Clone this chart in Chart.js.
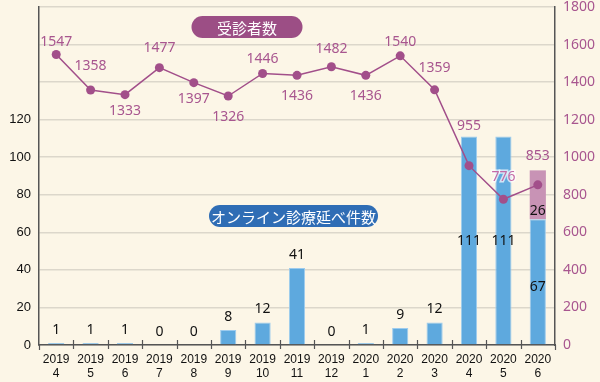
<!DOCTYPE html>
<html><head><meta charset="utf-8">
<script src="https://cdn.jsdelivr.net/npm/chart.js@4/dist/chart.umd.min.js"></script>
<style>html,body{margin:0;padding:0;background:#fcf6e7;}#wrap{width:600px;height:382px;}</style>
</head><body><div id="wrap"><canvas id="c" width="600" height="382"></canvas></div>
<script>
const categories = [["2019","4"],["2019","5"],["2019","6"],["2019","7"],["2019","8"],["2019","9"],["2019","10"],["2019","11"],["2019","12"],["2020","1"],["2020","2"],["2020","3"],["2020","4"],["2020","5"],["2020","6"]];
const onlineVisits = [1,1,1,0,0,8,12,41,0,1,9,12,111,111,67];
const onlineExtra  = [0,0,0,0,0,0,0,0,0,0,0,0,0,0,26];
const patients = [1547,1358,1333,1477,1397,1326,1446,1436,1482,1436,1540,1359,955,776,853];
const leftTicksShownMax = 120;
const seriesNames = ["受診者数","オンライン診療延べ件数"];

// style: vertical offsets for line value labels
const lineLabelDy = [-12,-24,16,-20,16,21,-14,21,-18,21,-14,-22,-40,-22,-29];

const PURPLE = '#a24f8a';
const PURPLE_TXT = '#a8568f';
const BLUE = '#5ea9de';
const PINK = '#c893b5';

const labelPlugin = {
  id:'labels',
  afterDraw(chart){
    const ctx = chart.ctx;
    const x = chart.scales.x, yL = chart.scales.yL;
    const area = chart.chartArea;
    ctx.save();
    ctx.strokeStyle = '#555'; ctx.lineWidth = 1.2;
    for(let i=1;i<categories.length;i++){
      const px = Math.round((x.getPixelForValue(i-1)+x.getPixelForValue(i))/2)+0.5;
      ctx.beginPath(); ctx.moveTo(px, area.bottom-5); ctx.lineTo(px, area.bottom+4); ctx.stroke();
    }
    ctx.beginPath(); ctx.moveTo(area.right+0.5, area.bottom); ctx.lineTo(area.right+0.5, area.bottom+5); ctx.stroke();
    ctx.beginPath(); ctx.moveTo(area.left+0.5, area.bottom); ctx.lineTo(area.left+0.5, area.bottom+5); ctx.stroke();
    ctx.font = '14px "Noto Sans", sans-serif';
    ctx.textAlign = 'center'; ctx.textBaseline = 'middle';
    ctx.fillStyle = '#111';
    for(let i=0;i<onlineVisits.length;i++){
      const cx = x.getPixelForValue(i);
      const v = onlineVisits[i], e = onlineExtra[i];
      const total = v+e;
      if(total < 60){
        ctx.fillText(String(v), cx, yL.getPixelForValue(total)-13);
      } else {
        const top = yL.getPixelForValue(v), bot = yL.getPixelForValue(0);
        ctx.fillText(String(v), cx, (top+bot)/2 + (e>0?5:0));
        if(e>0){
          ctx.fillText(String(e), cx, yL.getPixelForValue(v)-8);
        }
      }
    }
    const meta = chart.getDatasetMeta(2);
    meta.data.forEach((pt,i)=>{
      const ty = pt.y + lineLabelDy[i];
      if(i===13){
        ctx.lineWidth = 3; ctx.strokeStyle = 'rgba(255,255,255,0.7)';
        ctx.strokeText(String(patients[i]), pt.x, ty);
        ctx.fillStyle = '#c46aa6';
      } else ctx.fillStyle = PURPLE_TXT;
      ctx.fillText(String(patients[i]), pt.x, ty);
    });
    function pill(cx, cy, w, h, color, text){
      const r = h/2;
      ctx.fillStyle = color;
      ctx.beginPath();
      ctx.moveTo(cx-w/2+r, cy-r);
      ctx.lineTo(cx+w/2-r, cy-r);
      ctx.arc(cx+w/2-r, cy, r, -Math.PI/2, Math.PI/2);
      ctx.lineTo(cx-w/2+r, cy+r);
      ctx.arc(cx-w/2+r, cy, r, Math.PI/2, Math.PI*1.5);
      ctx.closePath(); ctx.fill();
      ctx.fillStyle = '#fff';
      ctx.font = '15px "Noto Sans CJK JP", sans-serif';
      ctx.fillText(text, cx, cy+1);
    }
    pill(247, 27, 111, 22, '#9c4e85', seriesNames[0]);
    pill(293.5, 216, 169, 22, '#2f6db5', seriesNames[1]);
    ctx.restore();
  }
};

new Chart(document.getElementById('c'), {
  type:'bar',
  data:{
    labels: categories,
    datasets:[
      {label:seriesNames[1], data:onlineVisits, yAxisID:'yL', backgroundColor:BLUE, borderColor:'#9ccbee', borderWidth:{left:1,right:1,top:1,bottom:0}, barPercentage:0.47, categoryPercentage:1, stack:'s', order:2},
      {label:'extra', data:onlineExtra, yAxisID:'yL', backgroundColor:PINK, borderColor:'#dcb6cf', borderWidth:0, barPercentage:0.47, categoryPercentage:1, stack:'s', order:2},
      {type:'line', label:seriesNames[0], data:patients, yAxisID:'yR', borderColor:PURPLE, backgroundColor:PURPLE, borderWidth:1.5, pointRadius:4.5, pointBackgroundColor:PURPLE, pointBorderWidth:0, tension:0, order:1}
    ]
  },
  options:{
    responsive:false, animation:false,
    layout:{padding:{top:7,left:0,right:0,bottom:0}},
    plugins:{legend:{display:false}, tooltip:{enabled:false}},
    scales:{
      x:{
        stacked:true,
        grid:{display:false, drawTicks:false},
        border:{display:true, color:'#555', width:1.5},
        ticks:{color:'#111', padding:8, font:{family:'"Liberation Sans", Arial, sans-serif', size:12, lineHeight:1.15}, maxRotation:0, autoSkip:false},
        afterFit(s){ s.height = 37; s.paddingLeft = 0; s.paddingRight = 0; }
      },
      yL:{
        position:'left', stacked:true, min:0, max:180,
        grid:{color:'#dcd7cb', lineWidth:1.5, drawTicks:false},
        border:{display:true, color:'#555', width:1.5},
        ticks:{stepSize:20, padding:8, color:'#111', font:{family:'"Liberation Sans", Arial, sans-serif', size:13}, callback:(v)=> v<=leftTicksShownMax ? String(v) : ''},
        afterFit(s){ s.width = 39; s.paddingTop = 0; s.paddingBottom = 0; }
      },
      yR:{
        position:'right', min:0, max:1800,
        grid:{display:false, drawTicks:false},
        border:{display:true, color:'#555', width:1.5},
        ticks:{stepSize:200, padding:8, color:PURPLE_TXT, font:{family:'"Noto Sans", sans-serif', size:14}, callback:(v)=>String(v)},
        afterFit(s){ s.width = 45; s.paddingTop = 0; s.paddingBottom = 0; }
      }
    }
  },
  plugins:[labelPlugin]
});
</script>
</body></html>
